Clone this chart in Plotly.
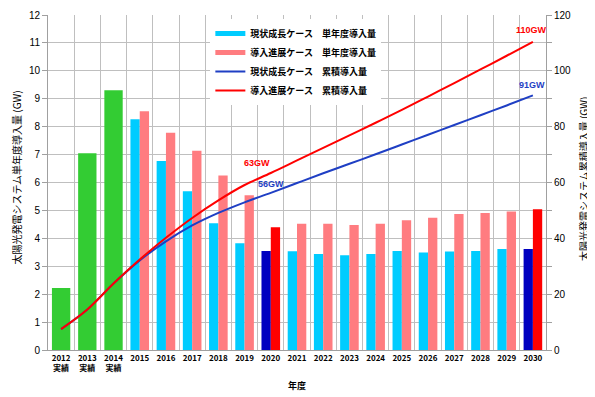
import plotly.graph_objects as go

years = [str(y) for y in range(2012, 2031)]
tick_text = ["2012<br>実績", "2013<br>実績", "2014<br>実績"] + [str(y) for y in range(2015, 2031)]

actual_years = ["2012", "2013", "2014"]
actual_values = [2.22, 7.05, 9.3]

plan_years = [str(y) for y in range(2015, 2031)]
current_annual = [8.27, 6.77, 5.69, 4.54, 3.82, 3.55, 3.54, 3.44, 3.39, 3.44, 3.55, 3.49, 3.53, 3.55, 3.62, 3.62]
accel_annual = [8.55, 7.78, 7.14, 6.25, 5.54, 4.40, 4.52, 4.52, 4.48, 4.52, 4.65, 4.74, 4.87, 4.91, 4.96, 5.04]

current_cum = [7.5, 14.5, 23.8, 32.1, 38.9, 44.6, 49.1, 52.9, 56.3, 59.8, 63.3, 66.7, 70.1, 73.6, 77.1, 80.6, 84.1, 87.6, 91.2]
accel_cum = [7.5, 14.5, 23.8, 32.4, 40.2, 47.3, 53.6, 59.1, 63.4, 67.9, 72.4, 76.9, 81.4, 86.0, 90.8, 95.6, 100.5, 105.4, 110.4]

legend_names = ["現状成長ケース　単年度導入量", "導入進展ケース　単年度導入量",
                "現状成長ケース　累積導入量", "導入進展ケース　累積導入量"]
left_title = "太陽光発電システム単年度導入量 (GW)"
right_title = "太陽光発電システム累積導入量 (GW)"
x_title = "年度"

GREEN = "#33CC33"
CYAN = "#00CCFF"
PINK = "#FF7C80"
NAVY = "#0000C0"
RED = "#FF0000"
BLUE_LINE = "#1F3FC4"

idx = {y: i for i, y in enumerate(years)}
xs_all = [idx[y] for y in years]
xs_actual = [idx[y] for y in actual_years]
xs_plan = [idx[y] for y in plan_years]

cyan_colors = [NAVY if y in ("2020", "2030") else CYAN for y in plan_years]
pink_colors = [RED if y in ("2020", "2030") else PINK for y in plan_years]

fig = go.Figure()
fig.add_trace(go.Bar(x=xs_actual, y=actual_values, marker_color=GREEN, width=0.7, offset=-0.35,
                     showlegend=False, marker_line_width=0))
fig.add_trace(go.Bar(x=xs_plan, y=current_annual, marker_color=cyan_colors, width=0.355, offset=-0.355,
                     name=legend_names[0], marker_line_width=0, showlegend=False))
fig.add_trace(go.Bar(x=xs_plan, y=accel_annual, marker_color=pink_colors, width=0.355, offset=0.0,
                     name=legend_names[1], marker_line_width=0, showlegend=False))
# legend-only entries drawn as thick rectangles for the bar series
fig.add_trace(go.Scatter(x=[None], y=[None], mode="lines", line=dict(color=CYAN, width=5),
                         name="<b>%s</b>" % legend_names[0]))
fig.add_trace(go.Scatter(x=[None], y=[None], mode="lines", line=dict(color=PINK, width=5),
                         name="<b>%s</b>" % legend_names[1]))
fig.add_trace(go.Scatter(x=xs_all, y=current_cum, mode="lines", line=dict(color=BLUE_LINE, width=2, shape="spline"),
                         name="<b>%s</b>" % legend_names[2], yaxis="y2"))
fig.add_trace(go.Scatter(x=xs_all, y=accel_cum, mode="lines", line=dict(color=RED, width=2, shape="spline"),
                         name="<b>%s</b>" % legend_names[3], yaxis="y2"))

annotations = [
    dict(x=idx["2020"], y=63.4, text="63GW", color=RED, xshift=-14, yshift=10),
    dict(x=idx["2020"], y=56.3, text="56GW", color=BLUE_LINE, xshift=0, yshift=9),
    dict(x=idx["2030"], y=110.4, text="110GW", color=RED, xshift=-1, yshift=12),
    dict(x=idx["2030"], y=91.2, text="91GW", color=BLUE_LINE, xshift=-1, yshift=10),
]

grid = "#BFBFBF"
axis_line = "#A0A0A0"
num_font = "Arial, Liberation Sans, sans-serif"

fig.update_layout(
    width=595, height=397,
    margin=dict(l=40, r=57, t=7, b=55, autoexpand=False),
    paper_bgcolor="white", plot_bgcolor="white",
    barmode="overlay",
    font=dict(family="Noto Sans CJK JP, Arial, sans-serif", size=10, color="#000000"),
    xaxis=dict(range=[-0.5, len(years) - 0.5], tickmode="array", tickvals=xs_all,
               ticktext=["<b>%s</b>" % t for t in tick_text],
               showgrid=False, zeroline=False, automargin=False,
               minor=dict(tick0=-0.5, dtick=1, showgrid=True, gridcolor=grid, gridwidth=1, ticks=""),
               showline=True, linecolor=axis_line, linewidth=1, ticks="",
               tickfont=dict(size=8)),
    yaxis=dict(range=[0, 12], dtick=1, showgrid=True, gridcolor=grid, gridwidth=1, automargin=False,
               showline=True, linecolor=axis_line, linewidth=1, ticks="outside", ticklen=5,
               tickcolor=axis_line, tickfont=dict(size=10, family=num_font), zeroline=False,
               ticklabeloverflow="allow"),
    yaxis2=dict(range=[0, 120], dtick=20, overlaying="y", side="right", showgrid=False, automargin=False,
                showline=True, linecolor=axis_line, linewidth=1, ticks="outside", ticklen=5,
                tickcolor=axis_line, tickfont=dict(size=10, family=num_font), zeroline=False,
                ticklabeloverflow="allow",
                minor=dict(dtick=10, ticks="outside", ticklen=5, tickcolor=axis_line)),
    legend=dict(x=0.326, y=0.988, xanchor="left", yanchor="top", bgcolor="white",
                font=dict(size=9), itemwidth=30, tracegroupgap=0, traceorder="normal"),
)

fig.add_annotation(xref="paper", yref="paper", x=-0.064, y=0.515, text=left_title, textangle=-90,
                   showarrow=False, font=dict(size=10), xanchor="center", yanchor="middle")
fig.add_annotation(xref="paper", yref="paper", x=1.074, y=0.51, text=right_title, textangle=-90,
                   showarrow=False, font=dict(size=10), xanchor="center", yanchor="middle")
fig.add_annotation(xref="paper", yref="paper", x=0.5, y=-0.105, text="<b>%s</b>" % x_title,
                   showarrow=False, font=dict(size=9), xanchor="center", yanchor="middle")

for a in annotations:
    fig.add_annotation(x=a["x"], y=a["y"], yref="y2", text="<b>%s</b>" % a["text"], showarrow=False,
                       font=dict(color=a["color"], size=9, family="Arial"),
                       xshift=a["xshift"], yshift=a["yshift"])

fig.write_html("out.html")
